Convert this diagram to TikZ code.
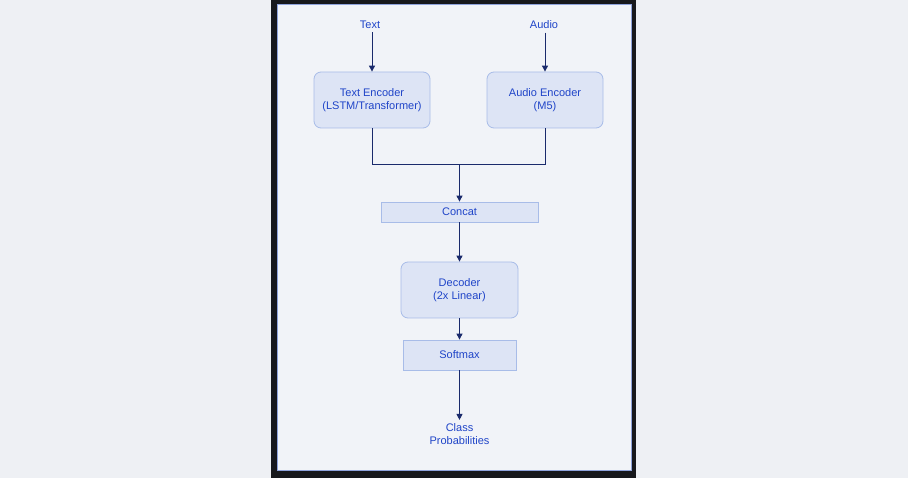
\documentclass[tikz,border=0pt]{standalone}
\usepackage{fontspec}
\setmainfont{Liberation Sans}
\usetikzlibrary{arrows.meta}
\definecolor{bg}{HTML}{EEF0F4}
\definecolor{frame}{HTML}{17181C}
\definecolor{panel}{HTML}{F1F3F8}
\definecolor{panelb}{HTML}{8FA3DC}
\definecolor{txt}{HTML}{1F44C8}
\definecolor{arr}{HTML}{1A2A6C}
\definecolor{boxf}{HTML}{DDE4F5}
\definecolor{boxb}{HTML}{A8BCE8}
\begin{document}
\begin{tikzpicture}[x=1pt,y=-1pt,
  every node/.style={font=\fontsize{11}{13}\selectfont, text=txt, align=center},
  rbox/.style={draw=boxb, fill=boxf, rounded corners=7pt, line width=0.8pt, minimum width=116pt, minimum height=56pt, inner sep=0pt},
  sbox/.style={draw=boxb, fill=boxf, line width=0.8pt, inner sep=0pt},
  arw/.style={draw=arr, line width=1pt, -{Triangle[length=6pt,width=6pt]}},
  ln/.style={draw=arr, line width=1pt}]
\useasboundingbox (0,0) rectangle (908,478);
\fill[bg] (0,0) rectangle (908,478);
\fill[frame] (271,0) rectangle (636,478);
\filldraw[fill=panel, draw=panelb, line width=1pt] (277,5) rectangle (631,470);
\node (text) at (370,25) {Text};
\node (audio) at (544,25) {Audio};
\node[rbox] (tenc) at (372,100) {Text Encoder\\(LSTM/Transformer)};
\node[rbox] (aenc) at (545,100) {Audio Encoder\\(M5)};
\node[sbox, minimum width=157pt, minimum height=20pt] (concat) at (459.5,212) {Concat};
\node[rbox, minimum width=117pt] (dec) at (459.5,290) {Decoder\\(2x Linear)};
\node[sbox, minimum width=113pt, minimum height=30pt] (soft) at (459.5,355) {Softmax};
\node (out) at (459.5,434) {Class\\Probabilities};
\coordinate (j) at (459.5,165);
\draw[arw] (text.south -| tenc.north) -- (tenc.north);
\draw[arw] (audio.south -| aenc.north) -- (aenc.north);
\draw[ln] (tenc.south) |- (j);
\draw[ln] (aenc.south) |- (j);
\draw[arw] (j) -- (concat.north);
\draw[arw] (concat.south) -- (dec.north);
\draw[arw] (dec.south) -- (soft.north);
\draw[arw] (soft.south) -- (out.north);
\end{tikzpicture}
\end{document}
